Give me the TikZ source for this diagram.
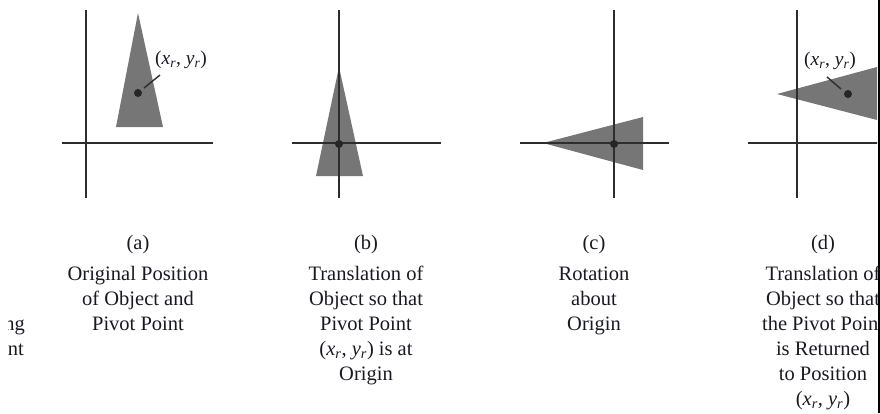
\documentclass[tikz,border=0pt]{standalone}
\usepackage{fontspec}
\setmainfont{Liberation Serif}
\definecolor{axisgray}{RGB}{45,45,45}
\definecolor{trigray}{RGB}{118,118,118}
\definecolor{txt}{RGB}{25,25,35}
\newcommand{\pivotxy}{(\textit{x}\textsubscript{\textit{r}}, \textit{y}\textsubscript{\textit{r}})}
\begin{document}
\begin{tikzpicture}[x=1pt,y=-1pt,
  axis/.style={draw=axisgray,line width=1.8pt},
  tri/.style={fill=trigray},
  pivot/.style={circle,fill=black!85,inner sep=0pt,minimum size=8pt},
  leader/.style={draw=axisgray,line width=1.4pt},
  lbl/.style={font=\fontsize{19.5}{21}\selectfont,text=txt,inner sep=0pt},
  captxt/.style={font=\fontsize{20.5}{25}\selectfont,text=txt,anchor=base,inner sep=0pt}]
\useasboundingbox (0,0) rectangle (880,413);
\begin{scope}
\clip (8,0) rectangle (877,413);
% ---- panel (a)
\fill[tri] (138,13) -- (116,127) -- (163,127) -- cycle;
\draw[axis] (86,10) -- (86,198);
\draw[axis] (62,143) -- (213,143);
\node[pivot] (pa) at (138,93) {};
\coordinate (la1) at (144,88);
\coordinate (la2) at (160,75);
\draw[leader] (la1) -- (la2);
\node[lbl] (labela) at (181,60) {\pivotxy};
% ---- panel (b)
\fill[tri] (339,67) -- (316,176) -- (363,176) -- cycle;
\draw[axis] (339,10) -- (339,198);
\draw[axis] (292,143) -- (441,143);
\node[pivot] (pb) at (339,144) {};
% ---- panel (c)
\fill[tri] (543,143) -- (643,117) -- (643,170) -- cycle;
\draw[axis] (614,10) -- (614,198);
\draw[axis] (520,143) -- (669,143);
\node[pivot] (pc) at (614,144) {};
% ---- panel (d)
\fill[tri] (777,94) -- (877,67) -- (877,120) -- cycle;
\draw[axis] (797,10) -- (797,198);
\draw[axis] (748,143) -- (880,143);
\node[pivot] (pd) at (848,94) {};
\coordinate (ld1) at (827,77);
\coordinate (ld2) at (841,89);
\draw[leader] (ld1) -- (ld2);
\node[lbl] (labeld) at (830,61) {\pivotxy};
% ---- captions
\node[captxt] (tagA) at (138,249) {(a)};
\node[captxt] (tagB) at (366,249) {(b)};
\node[captxt] (tagC) at (594,249) {(c)};
\node[captxt] (tagD) at (823,249) {(d)};
\foreach \t [count=\i] in {{Original Position},{of Object and},{Pivot Point}}
  \node[captxt] (capa-\i) at (138,{280+(\i-1)*25}) {\t};
\foreach \t [count=\i] in {{Translation of},{Object so that},{Pivot Point},{\pivotxy{} is at},{Origin}}
  \node[captxt] (capb-\i) at (366,{280+(\i-1)*25}) {\t};
\foreach \t [count=\i] in {{Rotation},{about},{Origin}}
  \node[captxt] (capc-\i) at (594,{280+(\i-1)*25}) {\t};
\foreach \t [count=\i] in {{Translation of},{Object so that},{the Pivot Point},{is Returned},{to Position},{\pivotxy}}
  \node[captxt] (capd-\i) at (823,{280+(\i-1)*25}) {\t};
% ---- fragments at the left edge
\node[captxt,anchor=base east] (fragA) at (25,330) {ng};
\node[captxt,anchor=base east] (fragB) at (24,355) {nt};
\end{scope}
\coordinate (edgeT) at (879,0);
\coordinate (edgeB) at (879,413);
\draw[line width=2pt,black] (edgeT) -- (edgeB);
\end{tikzpicture}
\end{document}
